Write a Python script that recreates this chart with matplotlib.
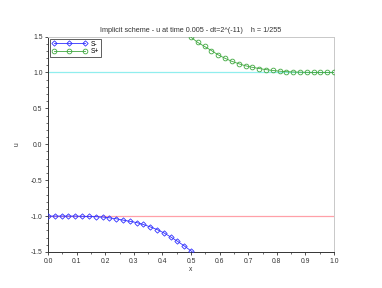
import matplotlib
matplotlib.use("Agg")
import matplotlib.pyplot as plt
from matplotlib.ticker import MultipleLocator

x = [0.0, 0.0238, 0.0476, 0.0714, 0.0952, 0.119, 0.1429, 0.1667, 0.1905, 0.2143,
     0.2381, 0.2619, 0.2857, 0.3095, 0.3333, 0.3571, 0.381, 0.4048, 0.4286, 0.4524,
     0.4762, 0.5, 0.5238, 0.5476, 0.5714, 0.5952, 0.619, 0.6429, 0.6667, 0.6905,
     0.7143, 0.7381, 0.7619, 0.7857, 0.8095, 0.8333, 0.8571, 0.881, 0.9048, 0.9286,
     0.9524, 0.9762, 1.0]

s_minus = [-1.0, -1.0, -1.0, -1.0, -1.0, -1.003, -1.005, -1.008, -1.013, -1.024,
           -1.037, -1.056, -1.072, -1.09, -1.117, -1.15, -1.187, -1.233, -1.29, -1.35,
           -1.415, -1.485, -1.56, -1.64, -1.72, -1.8, -1.88, -1.95, -2.0, -2.05,
           -2.1, -2.15, -2.2, -2.25, -2.3, -2.35, -2.4, -2.45, -2.5, -2.55,
           -2.6, -2.65, -2.7]

s_plus = [2.7, 2.65, 2.6, 2.55, 2.5, 2.45, 2.4, 2.35, 2.3, 2.25,
          2.2, 2.15, 2.1, 2.05, 2.0, 1.95, 1.88, 1.8, 1.72, 1.64,
          1.56, 1.49, 1.418, 1.362, 1.305, 1.245, 1.197, 1.155, 1.122, 1.093,
          1.072, 1.055, 1.04, 1.028, 1.018, 1.011, 1.007, 1.004, 1.002, 1.0,
          1.0, 1.0, 1.0]

ref_low = -1.0
ref_high = 1.0

title = "Implicit scheme - u at time 0.005 - dt=2^(-11)    h = 1/255"

plt.rcParams['font.family'] = ['Liberation Sans', 'DejaVu Sans']

fig = plt.figure(figsize=(3.82, 2.88), dpi=100)
ax = fig.add_axes([0.1257, 0.125, 0.7487, 0.748])

ax.axhline(ref_high, color='#90eeee', lw=0.9, zorder=1)
ax.axhline(ref_low, color='#ffa0a8', lw=0.9, zorder=1)

ax.plot(x, s_minus, color='#3030ff', lw=0.6, marker='D', ms=2.7,
        mfc='none', mec='#3030ff', mew=0.6, label='S-', zorder=3)
ax.plot(x, s_plus, color='#40a840', lw=0.6, marker='o', ms=3.4,
        mfc='none', mec='#40a840', mew=0.6, label='S+', zorder=3)

ax.set_xlim(0, 1)
ax.set_ylim(-1.5, 1.5)
ax.xaxis.set_major_locator(MultipleLocator(0.1))
ax.xaxis.set_minor_locator(MultipleLocator(0.05))
ax.yaxis.set_major_locator(MultipleLocator(0.5))
ax.yaxis.set_minor_locator(MultipleLocator(0.1))
ax.xaxis.set_major_formatter(matplotlib.ticker.FormatStrFormatter('%.1f'))
ax.yaxis.set_major_formatter(matplotlib.ticker.FormatStrFormatter('%.1f'))

ax.tick_params(which='major', direction='out', length=2.5, width=0.6,
               labelsize=4.9, colors='#333333', pad=1.5)
ax.tick_params(which='minor', direction='out', length=1.3, width=0.5,
               colors='#333333')
ax.tick_params(top=False, right=False)

for side in ['left', 'bottom']:
    ax.spines[side].set_color('#333333')
    ax.spines[side].set_linewidth(0.7)
for side in ['top', 'right']:
    ax.spines[side].set_color('#c8c8c8')
    ax.spines[side].set_linewidth(0.7)

ax.set_xlabel('x', fontsize=4.8, color='#333333', labelpad=1)
ax.set_ylabel('u', fontsize=4.8, color='#333333', labelpad=7)
ax.set_title(title, fontsize=5.2, color='#333333', pad=3)

leg = ax.legend(loc='upper left', fontsize=4.8, numpoints=3, handlelength=5.2,
                handletextpad=0.6, borderpad=0.3, labelspacing=0.1,
                fancybox=False, framealpha=1, edgecolor='#444444',
                borderaxespad=0.3)
leg.get_frame().set_linewidth(0.6)

fig.savefig('out.png', dpi=100)
